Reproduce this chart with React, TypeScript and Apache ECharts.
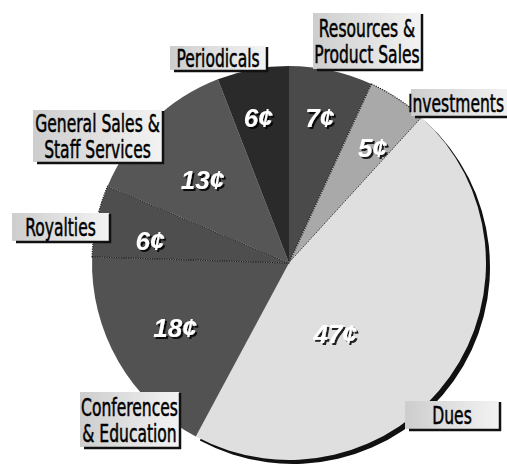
import React, { useEffect, useRef } from "react";
import * as echarts from "echarts";

// ---- data ----
const categories = [
  "Resources &\nProduct Sales",
  "Investments",
  "Dues",
  "Conferences\n& Education",
  "Royalties",
  "General Sales &\nStaff Services",
  "Periodicals",
];
const values = [7, 5, 47, 18, 6, 13, 6];
const sliceColors = ["#4a4a4a", "#a9a9a9", "#dfdfdf", "#525252", "#4e4e4e", "#565656", "#2a2a2a"];
const dottedEdge = [false, true, false, false, true, false, false];

// value-label placement: [angle clockwise from 12 o'clock (deg), fraction of radius]
const valueLabelPlace = [
  [12, 0.75],
  [36, 0.72],
  [147, 0.43],
  [240.5, 0.665],
  [279, 0.715],
  [314, 0.61],
  [348, 0.75],
];

// name-box placement: [left, top, width, height, text centre offset]
const nameBoxes = [
  [313, 13, 108, 56, 0],
  [411, 89, 100, 27, -5],
  [405, 401, 94, 28, 0],
  [80, 392, 99, 55, 0],
  [12, 213, 97, 28, 0],
  [33, 110, 129, 52, 0],
  [170, 46, 96, 24, 0],
];

const CX = 289;
const CY = 263;
const R = 197;
const NAME_FONT = '"DejaVu Sans Condensed", "DejaVu Sans", sans-serif';
const VALUE_FONT = '"Liberation Sans", Arial, sans-serif';

export default function App() {
  const ref = useRef<HTMLDivElement>(null);

  useEffect(() => {
    if (!ref.current) return;
    const chart = echarts.init(ref.current, undefined, { renderer: "svg" });

    const graphics: any[] = [];
    categories.forEach((name, i) => {
      const [l, t, w, h, off] = nameBoxes[i];
      graphics.push({
        type: "rect",
        silent: true,
        z: 10,
        shape: { x: l, y: t, width: w, height: h },
        style: {
          fill: new echarts.graphic.LinearGradient(0, 0, 1, 0, [
            { offset: 0, color: "#cdcdcd" },
            { offset: 1, color: "#f3f3f3" },
          ]),
        },
      });
      graphics.push({
        type: "line",
        silent: true,
        z: 11,
        shape: { x1: l + w + 1, y1: t + 1, x2: l + w + 1, y2: t + h + 2 },
        style: { stroke: "#111", lineWidth: 2.5 },
      });
      graphics.push({
        type: "line",
        silent: true,
        z: 11,
        shape: { x1: l + 4, y1: t + h + 1, x2: l + w + 2, y2: t + h + 1 },
        style: { stroke: "#111", lineWidth: 2.5 },
      });
      graphics.push({
        type: "text",
        silent: true,
        z: 12,
        x: l + w / 2 + off,
        y: t + h / 2 + 1,
        scaleX: 0.72,
        style: {
          text: name,
          x: 0,
          y: 0,
          align: "center",
          verticalAlign: "middle",
          font: `24px ${NAME_FONT}`,
          lineHeight: 26,
          fill: "#000",
          stroke: "#000",
          lineWidth: 0.5,
        },
      });
    });

    chart.setOption({
      animation: false,
      backgroundColor: "#ffffff",
      graphic: { elements: graphics },
      series: [
        {
          type: "pie",
          z: 1,
          silent: true,
          center: [CX + 4, CY + 4],
          radius: R,
          startAngle: 90,
          clockwise: true,
          avoidLabelOverlap: false,
          label: { show: false },
          labelLine: { show: false },
          data: categories.map((name, i) => ({
            name,
            value: values[i],
            itemStyle: { color: name === "Dues" ? "#111111" : "rgba(0,0,0,0)" },
          })),
        },
        {
          type: "pie",
          z: 2,
          silent: true,
          center: [CX, CY],
          radius: R,
          startAngle: 90,
          clockwise: true,
          avoidLabelOverlap: false,
          labelLine: { show: false },
          label: {
            show: true,
            position: "inside",
            formatter: (p: any) => `${p.value}¢`,
            color: "#ffffff",
            fontStyle: "italic",
            fontWeight: "bold",
            fontSize: 26,
            fontFamily: VALUE_FONT,
            textShadowColor: "rgba(0,0,0,0.85)",
            textShadowOffsetX: 2,
            textShadowOffsetY: 2,
            textShadowBlur: 1,
          },
          labelLayout: (p: any) => {
            const [a, f] = valueLabelPlace[p.dataIndex];
            const rad = (a * Math.PI) / 180;
            return {
              x: CX + Math.sin(rad) * f * R,
              y: CY - Math.cos(rad) * f * R,
              align: "center",
              verticalAlign: "middle",
            };
          },
          data: categories.map((name, i) => ({
            name,
            value: values[i],
            itemStyle: {
              color: sliceColors[i],
              borderColor: dottedEdge[i] ? "#1a1a1a" : sliceColors[i],
              borderWidth: dottedEdge[i] ? 1.2 : 0,
              borderType: dottedEdge[i] ? "dotted" : "solid",
            },
          })),
        },
      ],
    });

    return () => chart.dispose();
  }, []);

  return (
    <div
      ref={ref}
      style={{ position: "fixed", left: 0, top: 0, width: 507, height: 467, background: "#fff" }}
    />
  );
}
